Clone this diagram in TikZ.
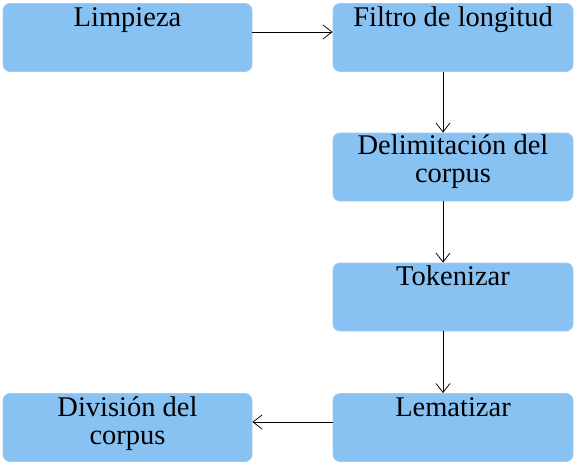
\documentclass[tikz,border=0pt]{standalone}
\usepackage{fontspec}
\setmainfont{Liberation Serif}
\usetikzlibrary{arrows.meta}
\definecolor{boxfill}{HTML}{88C2F2}
\definecolor{boxline}{HTML}{9CCBF3}
\tikzset{
  flowbox/.style={draw=boxline, line width=0.8pt, fill=boxfill, rounded corners=7pt, minimum width=#1, minimum height=68pt, inner sep=0pt},
  flowtext/.style={anchor=base, align=center, font=\fontsize{28.5}{28}\selectfont, inner sep=0pt},
  flowarrow/.style={draw=black, line width=0.75pt, -{Straight Barb[length=9pt,width=14pt,line width=0.75pt]}}
}
\begin{document}
\begin{tikzpicture}[x=1pt,y=-1pt]
\useasboundingbox (0,0) rectangle (576,466);
\node[flowbox=249pt] (A) at (127.5,37.5) {};
\node[flowbox=240pt] (B) at (453,37.5) {};
\node[flowbox=240pt] (C) at (453,167) {};
\node[flowbox=240pt] (D) at (453,297) {};
\node[flowbox=240pt] (E) at (453,427.5) {};
\node[flowbox=249pt] (F) at (127.5,427.5) {};
\node[flowtext] (tA) at ([yshift=-23pt]A.north) {Limpieza};
\node[flowtext] (tB) at ([yshift=-23pt]B.north) {Filtro de longitud};
\node[flowtext] (tC) at ([yshift=-50pt]C.north) {Delimitación del\\corpus};
\node[flowtext] (tD) at ([yshift=-23pt]D.north) {Tokenizar};
\node[flowtext] (tE) at ([yshift=-23pt]E.north) {Lematizar};
\node[flowtext] (tF) at ([yshift=-51pt]F.north) {División del\\corpus};
\draw[flowarrow] ([yshift=5.5pt]A.east) -- ([yshift=5.5pt]B.west);
\draw[flowarrow] ([xshift=-10pt]B.south) -- ([xshift=-10pt]C.north);
\draw[flowarrow] ([xshift=-10pt]C.south) -- ([xshift=-10pt]D.north);
\draw[flowarrow] ([xshift=-10pt]D.south) -- ([xshift=-10pt]E.north);
\draw[flowarrow] ([yshift=5.5pt]E.west) -- ([yshift=5.5pt]F.east);
\end{tikzpicture}
\end{document}
